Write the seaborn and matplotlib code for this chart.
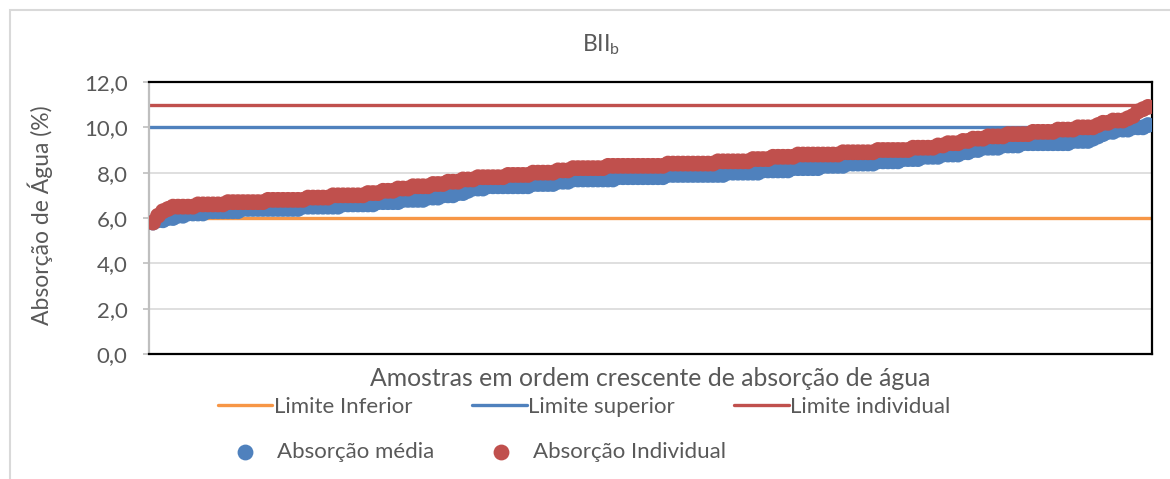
import matplotlib
matplotlib.use("Agg")
import matplotlib.pyplot as plt
import seaborn as sns
import pandas as pd
import numpy as np
from matplotlib.patches import Rectangle

# ---------------- data ----------------
absorcao_media = [
    5.8, 5.9, 5.9, 6.0, 6.0, 6.1, 6.1, 6.2, 6.2, 6.2,
    6.2, 6.3, 6.3, 6.3, 6.3, 6.3, 6.3, 6.3, 6.4, 6.4,
    6.4, 6.4, 6.4, 6.4, 6.4, 6.4, 6.4, 6.4, 6.4, 6.4,
    6.5, 6.5, 6.5, 6.5, 6.5, 6.5, 6.5, 6.5, 6.6, 6.6,
    6.6, 6.6, 6.6, 6.6, 6.6, 6.7, 6.7, 6.7, 6.7, 6.7,
    6.8, 6.8, 6.8, 6.8, 6.8, 6.9, 6.9, 6.9, 7.0, 7.0,
    7.0, 7.1, 7.1, 7.2, 7.3, 7.3, 7.3, 7.4, 7.4, 7.4,
    7.4, 7.4, 7.4, 7.4, 7.4, 7.4, 7.5, 7.5, 7.5, 7.5,
    7.5, 7.6, 7.6, 7.6, 7.7, 7.7, 7.7, 7.7, 7.7, 7.7,
    7.7, 7.7, 7.7, 7.8, 7.8, 7.8, 7.8, 7.8, 7.8, 7.8,
    7.8, 7.8, 7.8, 7.9, 7.9, 7.9, 7.9, 7.9, 7.9, 7.9,
    7.9, 7.9, 7.9, 7.9, 7.9, 8.0, 8.0, 8.0, 8.0, 8.0,
    8.0, 8.0, 8.1, 8.1, 8.1, 8.1, 8.1, 8.1, 8.2, 8.2,
    8.2, 8.2, 8.2, 8.2, 8.3, 8.3, 8.3, 8.3, 8.3, 8.4,
    8.4, 8.4, 8.4, 8.4, 8.4, 8.5, 8.5, 8.5, 8.5, 8.5,
    8.6, 8.6, 8.6, 8.6, 8.7, 8.7, 8.7, 8.7, 8.8, 8.8,
    8.8, 8.8, 8.9, 8.9, 9.0, 9.0, 9.1, 9.1, 9.1, 9.1,
    9.2, 9.2, 9.2, 9.2, 9.3, 9.3, 9.3, 9.3, 9.3, 9.3,
    9.3, 9.3, 9.3, 9.3, 9.4, 9.4, 9.4, 9.4, 9.5, 9.6,
    9.7, 9.8, 9.8, 9.9, 9.9, 9.9, 10.0, 10.0, 10.0, 10.1,
]
absorcao_individual = [
    5.8, 6.1, 6.3, 6.4, 6.5, 6.5, 6.5, 6.5, 6.5, 6.6,
    6.6, 6.6, 6.6, 6.6, 6.6, 6.7, 6.7, 6.7, 6.7, 6.7,
    6.7, 6.7, 6.7, 6.8, 6.8, 6.8, 6.8, 6.8, 6.8, 6.8,
    6.8, 6.9, 6.9, 6.9, 6.9, 6.9, 7.0, 7.0, 7.0, 7.0,
    7.0, 7.0, 7.0, 7.1, 7.1, 7.1, 7.2, 7.2, 7.2, 7.3,
    7.3, 7.3, 7.4, 7.4, 7.4, 7.4, 7.5, 7.5, 7.5, 7.6,
    7.6, 7.6, 7.7, 7.7, 7.7, 7.8, 7.8, 7.8, 7.8, 7.8,
    7.8, 7.9, 7.9, 7.9, 7.9, 7.9, 8.0, 8.0, 8.0, 8.0,
    8.0, 8.1, 8.1, 8.1, 8.2, 8.2, 8.2, 8.2, 8.2, 8.2,
    8.2, 8.3, 8.3, 8.3, 8.3, 8.3, 8.3, 8.3, 8.3, 8.3,
    8.3, 8.3, 8.3, 8.4, 8.4, 8.4, 8.4, 8.4, 8.4, 8.4,
    8.4, 8.4, 8.4, 8.5, 8.5, 8.5, 8.5, 8.5, 8.5, 8.5,
    8.6, 8.6, 8.6, 8.6, 8.7, 8.7, 8.7, 8.7, 8.7, 8.8,
    8.8, 8.8, 8.8, 8.8, 8.8, 8.8, 8.8, 8.8, 8.9, 8.9,
    8.9, 8.9, 8.9, 8.9, 8.9, 9.0, 9.0, 9.0, 9.0, 9.0,
    9.0, 9.0, 9.1, 9.1, 9.1, 9.1, 9.1, 9.2, 9.2, 9.3,
    9.3, 9.3, 9.4, 9.4, 9.5, 9.5, 9.5, 9.6, 9.6, 9.6,
    9.6, 9.7, 9.7, 9.7, 9.7, 9.7, 9.8, 9.8, 9.8, 9.8,
    9.8, 9.9, 9.9, 9.9, 9.9, 10.0, 10.0, 10.0, 10.0, 10.1,
    10.2, 10.2, 10.3, 10.3, 10.3, 10.4, 10.5, 10.7, 10.8, 10.9,
]
limite_inferior = 6.0
limite_superior = 10.0
limite_individual = 11.0
y_ticks = [0, 2, 4, 6, 8, 10, 12]
y_tick_labels = ["0,0", "2,0", "4,0", "6,0", "8,0", "10,0", "12,0"]

title_text = r"BII$_\mathregular{b}$"
x_label = "Amostras em ordem crescente de absorção de água"
y_label = "Absorção de Água (%)"
series_names = ["Absorção média", "Absorção Individual"]
limit_names = ["Limite Inferior", "Limite superior", "Limite individual"]

# ---------------- style ----------------
BLUE = "#4F81BD"
RED = "#C0504D"
ORANGE = "#F79646"
TXT = "#595959"

sns.set_theme(style="white")
plt.rcParams["font.family"] = ["Lato", "DejaVu Sans"]
plt.rcParams["text.color"] = TXT
plt.rcParams["mathtext.fontset"] = "custom"
plt.rcParams["mathtext.rm"] = "Lato"

W, H = 1170, 479
fig = plt.figure(figsize=(W / 100, H / 100), dpi=100)
fig.patch.set_facecolor("white")

# outer chart frame
fig.patches.append(Rectangle((10 / W, -0.05), 1.2, 1 - 10 / H + 0.05,
                             transform=fig.transFigure, fill=False,
                             edgecolor="#D9D9D9", linewidth=1.5, zorder=0))

ax = fig.add_axes([149 / W, 1 - 354 / H, (1152 - 149) / W, (354 - 82) / H])

n = len(absorcao_media)
df = pd.DataFrame({
    "idx": list(range(n)) * 2,
    "valor": absorcao_media + absorcao_individual,
    "serie": [series_names[0]] * n + [series_names[1]] * n,
})

# limit lines
l1 = ax.axhline(limite_inferior, color=ORANGE, lw=2.4, zorder=2, label=limit_names[0])
l2 = ax.axhline(limite_superior, color=BLUE, lw=2.4, zorder=2, label=limit_names[1])
l3 = ax.axhline(limite_individual, color=RED, lw=2.4, zorder=2, label=limit_names[2])

sns.scatterplot(data=df, x="idx", y="valor", hue="serie",
                palette={series_names[0]: BLUE, series_names[1]: RED},
                s=130, linewidth=0, alpha=1, ax=ax, zorder=3, legend=False)

ax.set_xlim(-0.8, n - 1 + 0.8)
ax.set_ylim(0, 12)
ax.set_yticks(y_ticks)
ax.set_yticklabels(y_tick_labels)
ax.set_xticks([])
ax.grid(axis="y", color="#D9D9D9", lw=1.2, zorder=0)
ax.set_axisbelow(True)
ax.tick_params(axis="y", which="both", left=True, length=4, width=1.2,
               color="#BFBFBF", labelsize=16, labelcolor=TXT, pad=11.5)
for side in ["top", "right", "bottom"]:
    ax.spines[side].set_color("black")
    ax.spines[side].set_linewidth(1.6)
ax.spines["left"].set_color("#BFBFBF")
ax.spines["left"].set_linewidth(1.6)
ax.set_xlabel("")
ax.set_ylabel("")

fig.text(601 / W, 1 - 45 / H, title_text, ha="center", va="center",
         fontsize=16.5, color=TXT)
fig.text(650 / W, 1 - 378 / H, x_label, ha="center", va="center",
         fontsize=17.8, color=TXT)
fig.text(40 / W, 1 - 215 / H, y_label, ha="center", va="center",
         rotation=90, fontsize=16.5, color=TXT)

# legends
leg1 = fig.legend(handles=[l1, l2, l3], labels=limit_names, loc="center left",
                  bbox_to_anchor=(218 / W, 1 - 407 / H), ncol=3, frameon=False,
                  fontsize=16, handlelength=2.45, handletextpad=0.05,
                  columnspacing=2.7, borderpad=0, borderaxespad=0)
for t in leg1.get_texts():
    t.set_color(TXT)

h_media = ax.scatter([], [], s=130, color=BLUE, linewidth=0)
h_ind = ax.scatter([], [], s=130, color=RED, linewidth=0)
leg2 = fig.legend(handles=[h_media, h_ind], labels=series_names, loc="center left",
                  bbox_to_anchor=(218 / W, 1 - 452 / H), ncol=2, frameon=False,
                  fontsize=16, handlelength=2.45, handletextpad=0.2,
                  columnspacing=1.8, borderpad=0, borderaxespad=0,
                  scatterpoints=1)
for t in leg2.get_texts():
    t.set_color(TXT)

fig.savefig("out.png", dpi=100, facecolor="white")
